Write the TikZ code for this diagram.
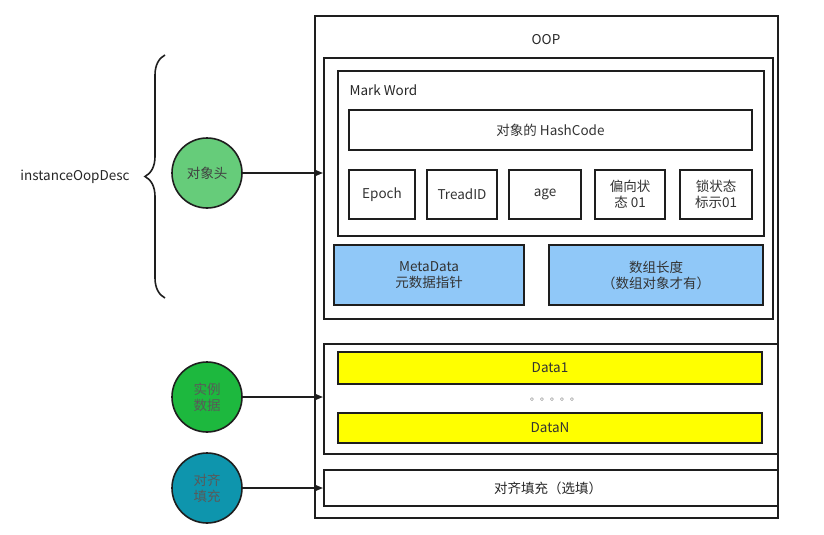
\documentclass[tikz,border=0pt]{standalone}
\usepackage{fontspec}
\setmainfont{Noto Sans CJK SC}
\usetikzlibrary{arrows.meta,decorations.pathreplacing}
\definecolor{linegray}{HTML}{1E1E1E}
\definecolor{headgreen}{HTML}{66CC7A}
\definecolor{datagreen}{HTML}{1DB83E}
\definecolor{padteal}{HTML}{0E95AD}
\definecolor{metablue}{HTML}{90C8F8}
\definecolor{datayellow}{HTML}{FFFF00}
\begin{document}
\begin{tikzpicture}[x=1pt,y=-1pt,font=\fontsize{13.5}{16}\selectfont]
\tikzstyle{mybox} = [draw=linegray, line width=1.6pt, inner sep=0pt, anchor=north west]
\tikzstyle{myfield} = [draw=linegray, line width=1.6pt, inner sep=0pt, align=center, text=black!80]
\tikzstyle{mycircle} = [circle, draw=linegray, line width=1.6pt, minimum size=70pt, inner sep=0pt, align=center]
\tikzstyle{myarrow} = [draw=linegray, line width=1.6pt, -{Triangle[length=9pt,width=7pt]}]
\useasboundingbox (0,0) rectangle (824,535);
% outer oop
\node[mybox, minimum width=463pt, minimum height=502pt] (oop) at (314,15) {};
\node[text=black!85] (ooptitle) at (546,40) {OOP};
% object header
\node[mybox, minimum width=449pt, minimum height=261pt] (header) at (323,57) {};
\node[mybox, minimum width=426pt, minimum height=165pt] (markword) at (337,70) {};
\node[anchor=west, text=black!85] (mwtitle) at (346,90) {Mark Word};
\node[myfield, minimum width=403pt, minimum height=40pt] (hash) at (550.5,130) {对象的 HashCode};
\node[myfield, minimum width=66pt, minimum height=49pt] (epoch) at (382,194.5) {Epoch};
\node[myfield, minimum width=70pt, minimum height=49pt] (tread) at (462,194.5) {TreadID};
\node[myfield, minimum width=72pt, minimum height=49pt] (age) at (545,194.5) {age};
\node[myfield, minimum width=70pt, minimum height=49pt] (bias) at (630,194.5) {偏向状\\态 01};
\node[myfield, minimum width=72pt, minimum height=49pt] (lock) at (716,194.5) {锁状态\\标示01};
\node[myfield, fill=metablue, minimum width=190pt, minimum height=60pt] (meta) at (429,275) {MetaData\\元数据指针};
\node[myfield, fill=metablue, minimum width=214pt, minimum height=60pt] (arrlen) at (656,275) {数组长度\\（数组对象才有）};
% instance data
\node[mybox, minimum width=454pt, minimum height=110pt] (inst) at (323,343) {};
\node[myfield, fill=datayellow, minimum width=424pt, minimum height=32pt] (data1) at (550,368) {Data1};
\node[text=black!60, font=\fontsize{10}{11}\selectfont] (dots) at (555,400) {。。。。。};
\node[myfield, fill=datayellow, minimum width=424pt, minimum height=30pt] (datan) at (550,428) {DataN};
% padding
\node[mybox, minimum width=454pt, minimum height=36pt] (pad) at (323,469) {};
\node[text=black!85] (padtext) at (548,488) {对齐填充（选填）};
% circles
\node[mycircle, fill=headgreen, text=black!75] (head) at (207,173) {对象头};
\node[mycircle, fill=datagreen, text=black!65] (data) at (207,397) {实例\\数据};
\node[mycircle, fill=padteal, text=black!65] (fill) at (207,488) {对齐\\填充};
\draw[myarrow] (head) -- (head -| header.west);
\draw[myarrow] (data) -- (data -| inst.west);
\draw[myarrow] (fill) -- (fill -| pad.west);
% brace
\coordinate (bracelow) at (165,298);
\coordinate (bracehigh) at (165,55);
\draw[linegray, line width=1.6pt, decorate, decoration={brace, amplitude=20pt}] (bracelow) -- (bracehigh);
\node[text=black!85] (desc) at (75,177) {instanceOopDesc};
\end{tikzpicture}
\end{document}
